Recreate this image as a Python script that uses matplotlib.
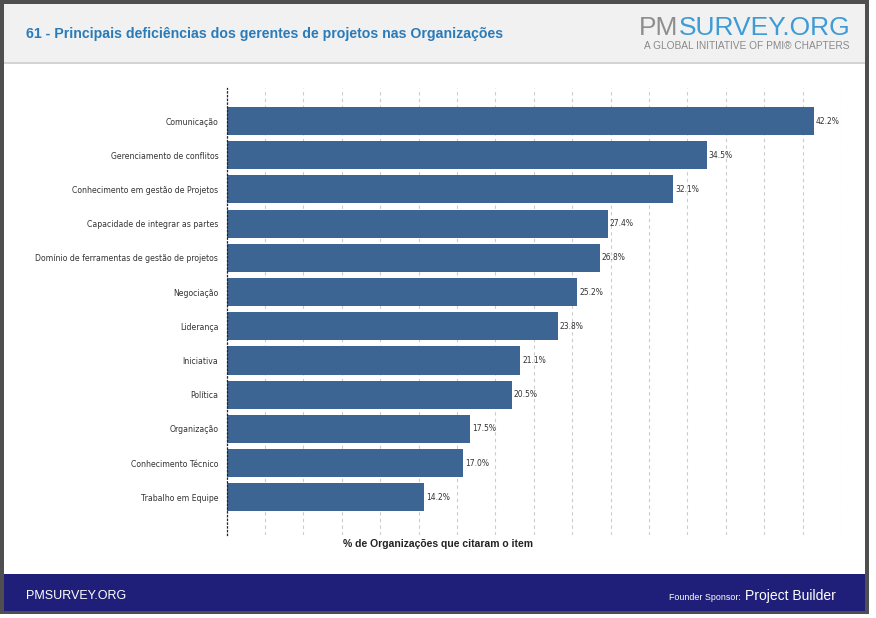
import matplotlib
matplotlib.use("Agg")
import matplotlib.pyplot as plt
from matplotlib.patches import Rectangle
from matplotlib import font_manager

categories = [
    "Comunicação",
    "Gerenciamento de conflitos",
    "Conhecimento em gestão de Projetos",
    "Capacidade de integrar as partes",
    "Domínio de ferramentas de gestão de projetos",
    "Negociação",
    "Liderança",
    "Iniciativa",
    "Política",
    "Organização",
    "Conhecimento Técnico",
    "Trabalho em Equipe",
]
values = [42.2, 34.5, 32.1, 27.4, 26.8, 25.2, 23.8, 21.1, 20.5, 17.5, 17.0, 14.2]
value_labels = ["42.2%", "34.5%", "32.1%", "27.4%", "26.8%", "25.2%", "23.8%",
                "21.1%", "20.5%", "17.5%", "17.0%", "14.2%"]
title = "61 - Principais deficiências dos gerentes de projetos nas Organizações"
xlabel = "% de Organizações que citaram o item"

W, H = 876, 618
names = {f.name for f in font_manager.fontManager.ttflist}
narrow = "Liberation Sans Narrow" if "Liberation Sans Narrow" in names else "Liberation Sans"

fig = plt.figure(figsize=(W / 100, H / 100), dpi=100)
fig.patch.set_facecolor("white")


def fx(x):
    return x / W


def fy(y):
    return 1 - y / H


def rect(x0, y0, x1, y1, color):
    fig.patches.append(Rectangle((fx(x0), fy(y1)), fx(x1) - fx(x0), fy(y0) - fy(y1),
                                 transform=fig.transFigure, facecolor=color,
                                 edgecolor="none", zorder=-10))


# frame
rect(0, 0, 869, 614, "#4f4f4f")
rect(4, 4, 865, 611, "white")
rect(4, 4, 865, 62, "#f1f1f1")
rect(4, 62, 865, 64, "#d4d4d4")
rect(4, 574, 865, 611, "#1f1f79")

# header texts
fig.text(fx(26), fy(34), title, fontsize=10.2, fontweight="bold", color="#2b7bb9",
         family=narrow, va="center", ha="left")
pm = fig.text(fx(639), fy(28), "PM", fontsize=19, color="#8e8e8e", family=narrow,
              va="center", ha="left")
fig.canvas.draw()
pm_right = pm.get_window_extent().x1
fig.text(pm_right / W, fy(28), "SURVEY.ORG", fontsize=19, color="#3d9bd6", family=narrow,
         va="center", ha="left")
fig.text(fx(850), fy(46), "A GLOBAL INITIATIVE OF PMI® CHAPTERS", fontsize=7.3,
         color="#8a8a8a", family=narrow, va="center", ha="right")

# footer texts
fig.text(fx(26), fy(596), "PMSURVEY.ORG", fontsize=9, color="white", family=narrow,
         va="center", ha="left")
fig.text(fx(836), fy(596), "Project Builder", fontsize=10, color="white", family=narrow,
         va="center", ha="right")
fig.text(fx(741), fy(597), "Founder Sponsor:", fontsize=6.4, color="white", family=narrow,
         va="center", ha="right")

# axes
left, right, top, bottom = 226.7, 841, 88, 535
ax = fig.add_axes([fx(left), fy(bottom), fx(right) - fx(left), fy(top) - fy(bottom)],
                  zorder=5)
ax.set_facecolor("none")
xmax = 44.16
n = len(categories)
ypos = list(range(n))
ax.barh(ypos, values, height=0.82, color="#3d6593", zorder=2)
ax.set_xlim(0, xmax)
ax.set_ylim(12.1, -0.965)
for i in range(1, 17):
    ax.axvline(xmax * i / 16, color="#cccccc", lw=0.8, ls=(0, (3, 3)), zorder=1)
for s in ["top", "right", "bottom"]:
    ax.spines[s].set_visible(False)
ax.spines["left"].set_linestyle((0, (1, 2)))
ax.spines["left"].set_color("#222222")
ax.spines["left"].set_linewidth(0.9)
ax.set_xticks([])
ax.set_yticks(ypos)
ax.set_yticklabels(categories, fontsize=5.6, color="#333333", family="DejaVu Sans")
ax.tick_params(axis="y", length=0, pad=6)
for y, v, lab in zip(ypos, values, value_labels):
    ax.text(v + 0.15, y, lab, fontsize=5.5, color="#333333", va="center", ha="left",
            family="DejaVu Sans")

fig.text(fx(438), fy(544), xlabel, fontsize=7.5, fontweight="bold", color="#222222",
         family=narrow, va="center", ha="center")

fig.savefig("out.png", dpi=100, facecolor="white")
